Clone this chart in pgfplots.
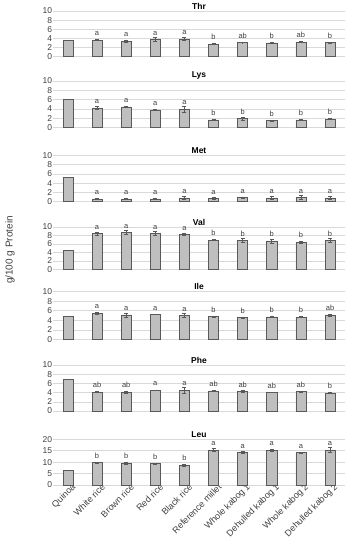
\documentclass[border=0pt]{standalone}
\usepackage{fontspec}
\setmainfont{Liberation Sans}
\usepackage{pgfplots}
\pgfplotsset{compat=1.18}
\definecolor{barfill}{HTML}{BFBFBF}
\definecolor{barline}{HTML}{595959}
\definecolor{gridc}{HTML}{D9D9D9}
\definecolor{txt}{HTML}{404040}
\pgfplotsset{
 panel/.style={
  scale only axis, width=291.2pt, anchor=south west,
  xmin=-0.5, xmax=9.5, ymin=0, ymax=10,
  ytick={0,2,...,10}, ymajorgrids, grid style={gridc, line width=0.5pt},
  xtick={0,...,9}, xticklabels={}, major tick length=0pt,
  axis line style={draw=none},
  tick label style={font=\fontsize{8.5}{9}\selectfont, text=txt},
  yticklabel style={/pgf/number format/assume math mode=true, inner sep=1pt},
  every axis title shift=0pt,
  title style={at={(0.5,1)}, anchor=south, font=\bfseries\fontsize{8.5}{9}\selectfont, inner sep=0pt, yshift=1.5pt},
  clip=false,
 },
 bars/.style={ybar, bar width=10pt, bar shift=0pt, fill=barfill, draw=barline, line width=0.6pt},
 lab/.style={bars, nodes near coords, point meta=explicit symbolic,
   every node near coord/.append style={font=\fontsize{7.5}{8}\selectfont, text=txt, anchor=south, inner sep=0pt, text depth=0pt, yshift=4pt},
   error bars/.cd, y dir=both, y explicit, error bar style={barline, line width=0.6pt},
   error mark options={rotate=90, mark size=2pt, barline, line width=0.6pt}},
}
\begin{document}
\begin{tikzpicture}
\useasboundingbox (0,0) rectangle (353pt,550pt);
\node[rotate=90, font=\fontsize{10}{11}\selectfont, text=txt] at (10pt,300pt) {g/100 g Protein};

% Thr
\begin{axis}[panel, at={(53.4pt,493.3pt)}, height=45.7pt, title={Thr}]
\addplot[bars] coordinates {(0,3.65)};
\addplot[lab] table[x=x, y=y, y error=e, meta=l] {
x y e l
1 3.6 0.1 a
2 3.4 0.15 a
3 3.8 0.4 a
4 3.9 0.25 a
5 2.75 0.1 b
6 3.1 0.05 ab
7 3.0 0.15 b
8 3.2 0.15 ab
9 3.1 0.1 b
};
\end{axis}

% Lys
\begin{axis}[panel, at={(53.4pt,422.7pt)}, height=46.3pt, title={Lys}]
\addplot[bars] coordinates {(0,6.0)};
\addplot[lab] table[x=x, y=y, y error=e, meta=l] {
x y e l
1 4.2 0.35 a
2 4.4 0.15 a
3 3.75 0.1 a
4 3.9 0.6 a
5 1.6 0.1 b
6 1.85 0.4 b
7 1.45 0.1 b
8 1.6 0.15 b
9 1.75 0.1 b
};
\end{axis}

% Met
\begin{axis}[panel, at={(53.4pt,348.3pt)}, height=46.3pt, title={Met}]
\addplot[bars] coordinates {(0,5.3)};
\addplot[lab] table[x=x, y=y, y error=e, meta=l] {
x y e l
1 0.6 0.15 a
2 0.6 0.1 a
3 0.6 0.15 a
4 0.8 0.3 a
5 0.7 0.2 a
6 0.9 0.15 a
7 0.8 0.3 a
8 0.9 0.4 a
9 0.8 0.3 a
};
\end{axis}

% Val
\begin{axis}[panel, at={(53.4pt,280.7pt)}, height=42.3pt, title={Val}]
\addplot[bars] coordinates {(0,4.5)};
\addplot[lab] table[x=x, y=y, y error=e, meta=l] {
x y e l
1 8.4 0.3 a
2 8.7 0.5 a
3 8.5 0.5 a
4 8.2 0.2 a
5 6.9 0.15 b
6 6.8 0.5 b
7 6.7 0.5 b
8 6.4 0.3 b
9 6.85 0.4 b
};
\end{axis}

% Ile
\begin{axis}[panel, at={(53.4pt,210.7pt)}, height=47.7pt, title={Ile}]
\addplot[bars] coordinates {(0,4.85)};
\addplot[lab] table[x=x, y=y, y error=e, meta=l] {
x y e l
1 5.5 0.2 a
2 5.1 0.45 a
3 5.2 0.05 a
4 5.0 0.35 a
5 4.75 0.15 b
6 4.6 0.1 b
7 4.7 0.05 b
8 4.65 0.1 b
9 5.1 0.2 ab
};
\end{axis}

% Phe
\begin{axis}[panel, at={(53.4pt,139pt)}, height=46pt, title={Phe}]
\addplot[bars] coordinates {(0,6.9)};
\addplot[lab] table[x=x, y=y, y error=e, meta=l] {
x y e l
1 4.1 0.1 ab
2 4.1 0.15 ab
3 4.55 0.05 a
4 4.5 0.6 a
5 4.35 0.15 ab
6 4.25 0.15 ab
7 4.05 0.05 ab
8 4.2 0.15 ab
9 3.95 0.1 b
};
\end{axis}

% Leu
\begin{axis}[panel, at={(53.4pt,65pt)}, height=45.7pt, title={Leu},
  ymax=20, ytick={0,5,...,20},
  xticklabels={Quinoa, White rice, Brown rice, Red rice, Black rice, Reference millet, Whole kabog 1, Dehulled kabog 1, Whole kabog 2, Dehulled kabog 2},
  xticklabel style={rotate=45, anchor=east, font=\fontsize{9}{10}\selectfont, inner sep=0pt, xshift=4pt, yshift=-5pt}]
\addplot[bars] coordinates {(0,6.4)};
\addplot[lab] table[x=x, y=y, y error=e, meta=l] {
x y e l
1 9.8 0.3 b
2 9.5 0.4 b
3 9.35 0.2 b
4 8.75 0.4 b
5 15.4 0.5 a
6 14.3 0.4 a
7 15.2 0.4 a
8 14.1 0.4 a
9 15.4 0.9 a
};
\end{axis}
\end{tikzpicture}
\end{document}
